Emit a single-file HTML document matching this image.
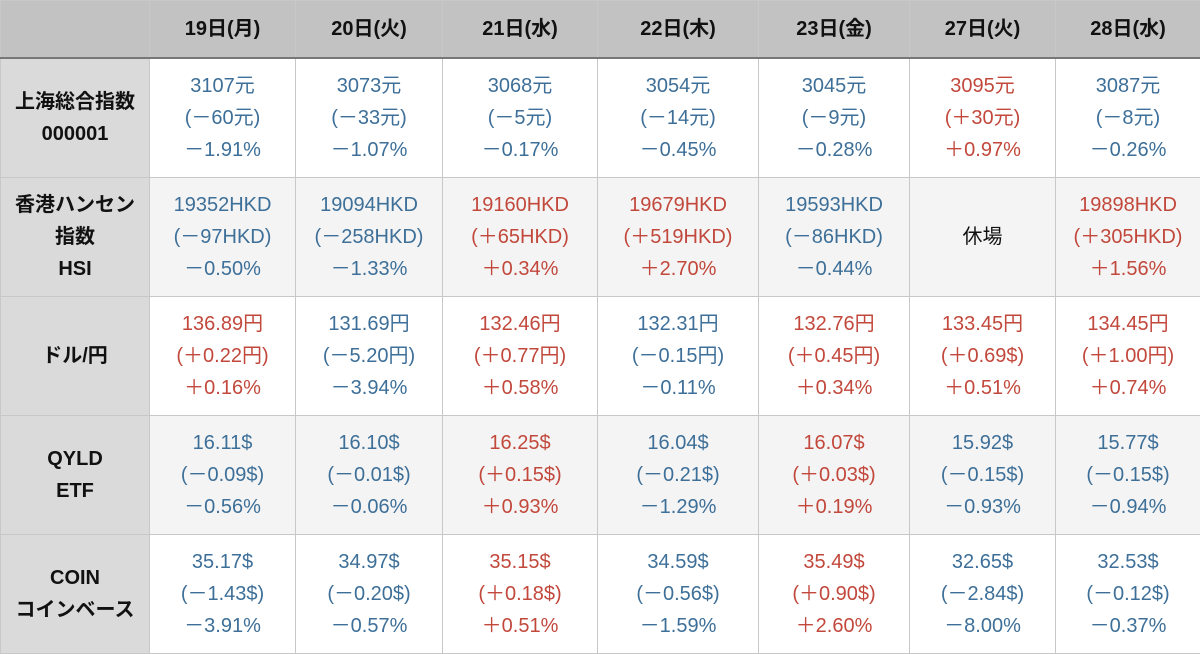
<!DOCTYPE html>
<html><head><meta charset="utf-8"><style>
body{margin:0;width:1200px;height:654px;overflow:hidden;background:#fff;font-family:"Liberation Sans","Noto Sans CJK JP",sans-serif;}
table{border-collapse:collapse;table-layout:fixed;width:1200px;}
td,th{border:1px solid #c8c8c8;text-align:center;padding:0;font-size:20px;line-height:32px;}
th{background:#c2c2c2;height:56px;font-weight:bold;color:#111;border-bottom:2px solid #777;}
td.h{background:#dadada;font-weight:bold;color:#111;}
tr.alt td{background:#f4f4f4}
tr.alt td.h{background:#dadada}
tr td{height:118px}
.b{color:#3d6f98}.r{color:#c2483c}.k{color:#111}
</style></head><body>
<table>
<colgroup><col style="width:149px"><col style="width:146px"><col style="width:147px"><col style="width:155px"><col style="width:161px"><col style="width:151px"><col style="width:146px"><col style="width:145px"></colgroup>
<tr><th></th><th>19日(月)</th><th>20日(火)</th><th>21日(水)</th><th>22日(木)</th><th>23日(金)</th><th>27日(火)</th><th>28日(水)</th></tr>
<tr><td class="h">上海総合指数<br>000001</td>
<td class="b">3107元<br>(－60元)<br>－1.91%</td>
<td class="b">3073元<br>(－33元)<br>－1.07%</td>
<td class="b">3068元<br>(－5元)<br>－0.17%</td>
<td class="b">3054元<br>(－14元)<br>－0.45%</td>
<td class="b">3045元<br>(－9元)<br>－0.28%</td>
<td class="r">3095元<br>(＋30元)<br>＋0.97%</td>
<td class="b">3087元<br>(－8元)<br>－0.26%</td></tr>
<tr class="alt"><td class="h">香港ハンセン<br>指数<br>HSI</td>
<td class="b">19352HKD<br>(－97HKD)<br>－0.50%</td>
<td class="b">19094HKD<br>(－258HKD)<br>－1.33%</td>
<td class="r">19160HKD<br>(＋65HKD)<br>＋0.34%</td>
<td class="r">19679HKD<br>(＋519HKD)<br>＋2.70%</td>
<td class="b">19593HKD<br>(－86HKD)<br>－0.44%</td>
<td class="k">休場</td>
<td class="r">19898HKD<br>(＋305HKD)<br>＋1.56%</td></tr>
<tr><td class="h">ドル/円</td>
<td class="r">136.89円<br>(＋0.22円)<br>＋0.16%</td>
<td class="b">131.69円<br>(－5.20円)<br>－3.94%</td>
<td class="r">132.46円<br>(＋0.77円)<br>＋0.58%</td>
<td class="b">132.31円<br>(－0.15円)<br>－0.11%</td>
<td class="r">132.76円<br>(＋0.45円)<br>＋0.34%</td>
<td class="r">133.45円<br>(＋0.69$)<br>＋0.51%</td>
<td class="r">134.45円<br>(＋1.00円)<br>＋0.74%</td></tr>
<tr class="alt"><td class="h">QYLD<br>ETF</td>
<td class="b">16.11$<br>(－0.09$)<br>－0.56%</td>
<td class="b">16.10$<br>(－0.01$)<br>－0.06%</td>
<td class="r">16.25$<br>(＋0.15$)<br>＋0.93%</td>
<td class="b">16.04$<br>(－0.21$)<br>－1.29%</td>
<td class="r">16.07$<br>(＋0.03$)<br>＋0.19%</td>
<td class="b">15.92$<br>(－0.15$)<br>－0.93%</td>
<td class="b">15.77$<br>(－0.15$)<br>－0.94%</td></tr>
<tr><td class="h">COIN<br>コインベース</td>
<td class="b">35.17$<br>(－1.43$)<br>－3.91%</td>
<td class="b">34.97$<br>(－0.20$)<br>－0.57%</td>
<td class="r">35.15$<br>(＋0.18$)<br>＋0.51%</td>
<td class="b">34.59$<br>(－0.56$)<br>－1.59%</td>
<td class="r">35.49$<br>(＋0.90$)<br>＋2.60%</td>
<td class="b">32.65$<br>(－2.84$)<br>－8.00%</td>
<td class="b">32.53$<br>(－0.12$)<br>－0.37%</td></tr>
</table>
</body></html>
